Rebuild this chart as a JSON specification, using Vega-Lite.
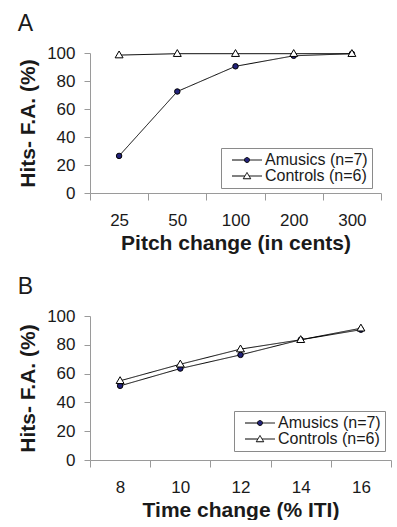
{
  "$schema": "https://vega.github.io/schema/vega-lite/v6.json",
  "padding": {"left": 17, "top": 13, "right": 0, "bottom": 0},
  "spacing": 23,
  "config": {
    "font": "Liberation Sans",
    "view": {"stroke": null},
    "axis": {"labelFont": "Liberation Sans", "labelFontSize": 17, "labelColor": "#1a1a1a", "titleFont": "Liberation Sans", "titleFontSize": 21, "titleFontWeight": "bold", "titleColor": "#1a1a1a", "domainColor": "#9a9a9a", "tickColor": "#9a9a9a", "tickSize": 6, "grid": false},
    "title": {"font": "Liberation Sans", "fontSize": 23, "fontWeight": "normal", "color": "#1a1a1a", "anchor": "start", "frame": "bounds", "offset": 8},
    "legend": {"labelFont": "Liberation Sans", "labelFontSize": 16, "labelColor": "#1a1a1a", "strokeColor": "#8a8a8a", "fillColor": "white", "padding": 4, "symbolSize": 100, "symbolStrokeColor": "black", "symbolStrokeWidth": 1, "symbolOffset": 14, "labelOffset": 10, "rowPadding": 0}
  },
  "vconcat": [
    {
      "title": {"text": "A"},
      "width": 291,
      "height": 140,
      "data": {"values": [
        {"x": "25", "group": "Amusics (n=7)", "y": 26.5},
        {"x": "50", "group": "Amusics (n=7)", "y": 72.5},
        {"x": "100", "group": "Amusics (n=7)", "y": 90.5},
        {"x": "200", "group": "Amusics (n=7)", "y": 98},
        {"x": "300", "group": "Amusics (n=7)", "y": 99.5},
        {"x": "25", "group": "Controls (n=6)", "y": 98.5},
        {"x": "50", "group": "Controls (n=6)", "y": 99.5},
        {"x": "100", "group": "Controls (n=6)", "y": 99.5},
        {"x": "200", "group": "Controls (n=6)", "y": 99.5},
        {"x": "300", "group": "Controls (n=6)", "y": 99.5}
      ]},
      "encoding": {
        "x": {"field": "x", "type": "ordinal", "sort": ["25", "50", "100", "200", "300"], "scale": {"type": "band", "paddingInner": 0, "paddingOuter": 0}, "axis": {"title": "Pitch change (in cents)", "labelAngle": 0, "tickBand": "extent", "tickSize": 7, "labelPadding": 12, "titlePadding": 4}},
        "y": {"field": "y", "type": "quantitative", "scale": {"domain": [0, 100]}, "axis": {"title": "Hits- F.A. (%)", "values": [0, 20, 40, 60, 80, 100], "labelPadding": 9, "titlePadding": 8}}
      },
      "layer": [
        {"mark": {"type": "line", "color": "black", "strokeWidth": 1},
         "encoding": {
           "strokeDash": {"field": "group", "type": "nominal", "scale": {"domain": ["Amusics (n=7)", "Controls (n=6)"], "range": [[1, 0], [1, 0]]},
             "legend": {"title": null, "orient": "none", "legendX": 131, "legendY": 95,
               "encode": {"symbols": {"update": {
                 "shape": {"signal": "datum.value === 'Amusics (n=7)' ? 'M-3,0H-0.5M0.5,0H3M-0.5,0A0.5,0.5,0,1,0,0.5,0A0.5,0.5,0,1,0,-0.5,0Z' : 'M-3,0H-0.45M0.45,0H3M0,-0.7L0.75,0.55L-0.75,0.55Z'"},
                 "fill": {"signal": "datum.value === 'Amusics (n=7)' ? '#23237a' : 'white'"},
                 "stroke": {"value": "black"},
                 "strokeWidth": {"value": 1},
                 "opacity": {"value": 1}
               }}}}}
         }},
        {"mark": {"type": "point", "filled": true, "stroke": "black", "strokeWidth": 1, "opacity": 1, "size": 30},
         "encoding": {
           "shape": {"field": "group", "type": "nominal", "scale": {"range": ["circle", "M0,-1.5L1.45,1L-1.45,1Z"]}, "legend": null},
           "fill": {"field": "group", "type": "nominal", "scale": {"range": ["#23237a", "white"]}, "legend": null}
         }}
      ]
    },
    {
      "title": {"text": "B"},
      "width": 301,
      "height": 144,
      "data": {"values": [
        {"x": "8", "group": "Amusics (n=7)", "y": 51.5},
        {"x": "10", "group": "Amusics (n=7)", "y": 63.5},
        {"x": "12", "group": "Amusics (n=7)", "y": 73},
        {"x": "14", "group": "Amusics (n=7)", "y": 83.5},
        {"x": "16", "group": "Amusics (n=7)", "y": 90.5},
        {"x": "8", "group": "Controls (n=6)", "y": 55},
        {"x": "10", "group": "Controls (n=6)", "y": 66.5},
        {"x": "12", "group": "Controls (n=6)", "y": 77},
        {"x": "14", "group": "Controls (n=6)", "y": 83.5},
        {"x": "16", "group": "Controls (n=6)", "y": 91.5}
      ]},
      "encoding": {
        "x": {"field": "x", "type": "ordinal", "sort": ["8", "10", "12", "14", "16"], "scale": {"type": "band", "paddingInner": 0, "paddingOuter": 0}, "axis": {"title": "Time change (% ITI)", "labelAngle": 0, "tickBand": "extent", "tickSize": 7, "labelPadding": 12, "titlePadding": 4}},
        "y": {"field": "y", "type": "quantitative", "scale": {"domain": [0, 100]}, "axis": {"title": "Hits- F.A. (%)", "values": [0, 20, 40, 60, 80, 100], "labelPadding": 9, "titlePadding": 8}}
      },
      "layer": [
        {"mark": {"type": "line", "color": "black", "strokeWidth": 1},
         "encoding": {
           "strokeDash": {"field": "group", "type": "nominal", "scale": {"domain": ["Amusics (n=7)", "Controls (n=6)"], "range": [[1, 0], [1, 0]]},
             "legend": {"title": null, "orient": "none", "legendX": 144, "legendY": 95,
               "encode": {"symbols": {"update": {
                 "shape": {"signal": "datum.value === 'Amusics (n=7)' ? 'M-3,0H-0.5M0.5,0H3M-0.5,0A0.5,0.5,0,1,0,0.5,0A0.5,0.5,0,1,0,-0.5,0Z' : 'M-3,0H-0.45M0.45,0H3M0,-0.7L0.75,0.55L-0.75,0.55Z'"},
                 "fill": {"signal": "datum.value === 'Amusics (n=7)' ? '#23237a' : 'white'"},
                 "stroke": {"value": "black"},
                 "strokeWidth": {"value": 1},
                 "opacity": {"value": 1}
               }}}}}
         }},
        {"mark": {"type": "point", "filled": true, "stroke": "black", "strokeWidth": 1, "opacity": 1, "size": 30},
         "encoding": {
           "shape": {"field": "group", "type": "nominal", "scale": {"range": ["circle", "M0,-1.5L1.45,1L-1.45,1Z"]}, "legend": null},
           "fill": {"field": "group", "type": "nominal", "scale": {"range": ["#23237a", "white"]}, "legend": null}
         }}
      ]
    }
  ],
  "resolve": {"scale": {"x": "independent", "shape": "independent", "fill": "independent", "strokeDash": "independent"}, "legend": {"strokeDash": "independent"}}
}
